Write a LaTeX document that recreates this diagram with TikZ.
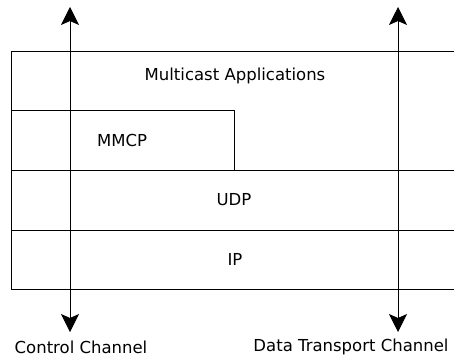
\documentclass[tikz,border=0pt]{standalone}
\usepackage{fontspec}
\setmainfont{DejaVu Sans}
\usepackage{tikz}
\usetikzlibrary{calc,arrows.meta,positioning}
\tikzset{
    layer/.style={
    draw=black,line width=0.8pt
    },
    lbl/.style={
    rectangle,inner sep=0pt,font=\fontsize{16.5}{18}\selectfont
    },
    chan/.style={
    rectangle,inner sep=0pt,font=\fontsize{16.5}{18}\selectfont
    },
  line/.style={draw, line width=0.8pt, {Stealth[length=18pt,width=18pt,inset=4pt]}-{Stealth[length=18pt,width=18pt,inset=4pt]}}
}
\begin{document}
\begin{tikzpicture}[x=1pt,y=-1pt]
    \useasboundingbox (0,0) rectangle (454,358);

    % protocol stack
    \path[layer] (454,51) -- (11,51) -- (11,289) -- (454,289);
    \path[layer] (11,110) -- (234,110) -- (234,170);
    \path[layer] (11,170) -- (454,170);
    \path[layer] (11,230) -- (454,230);

    \node[lbl] (apps) at (235,76) {Multicast Applications};
    \node[lbl] (mmcp) at (122,140) {MMCP};
    \node[lbl] (udp) at (234,200) {UDP};
    \node[lbl] (ip) at (235,259) {IP};

    % channels
    \coordinate (ctop) at (70,7);
    \coordinate (cbot) at (70,332);
    \coordinate (dtop) at (398,7);
    \coordinate (dbot) at (398,332);
    \node[chan] (ctrl) at (81,347) {Control Channel};
    \node[chan] (data) at (351,347) {Data Transport Channel};

    \begin{scope} [every path/.style=line]
      \path (cbot) -- (ctop);
      \path (dbot) -- (dtop);
    \end{scope}

\end{tikzpicture}
\end{document}
